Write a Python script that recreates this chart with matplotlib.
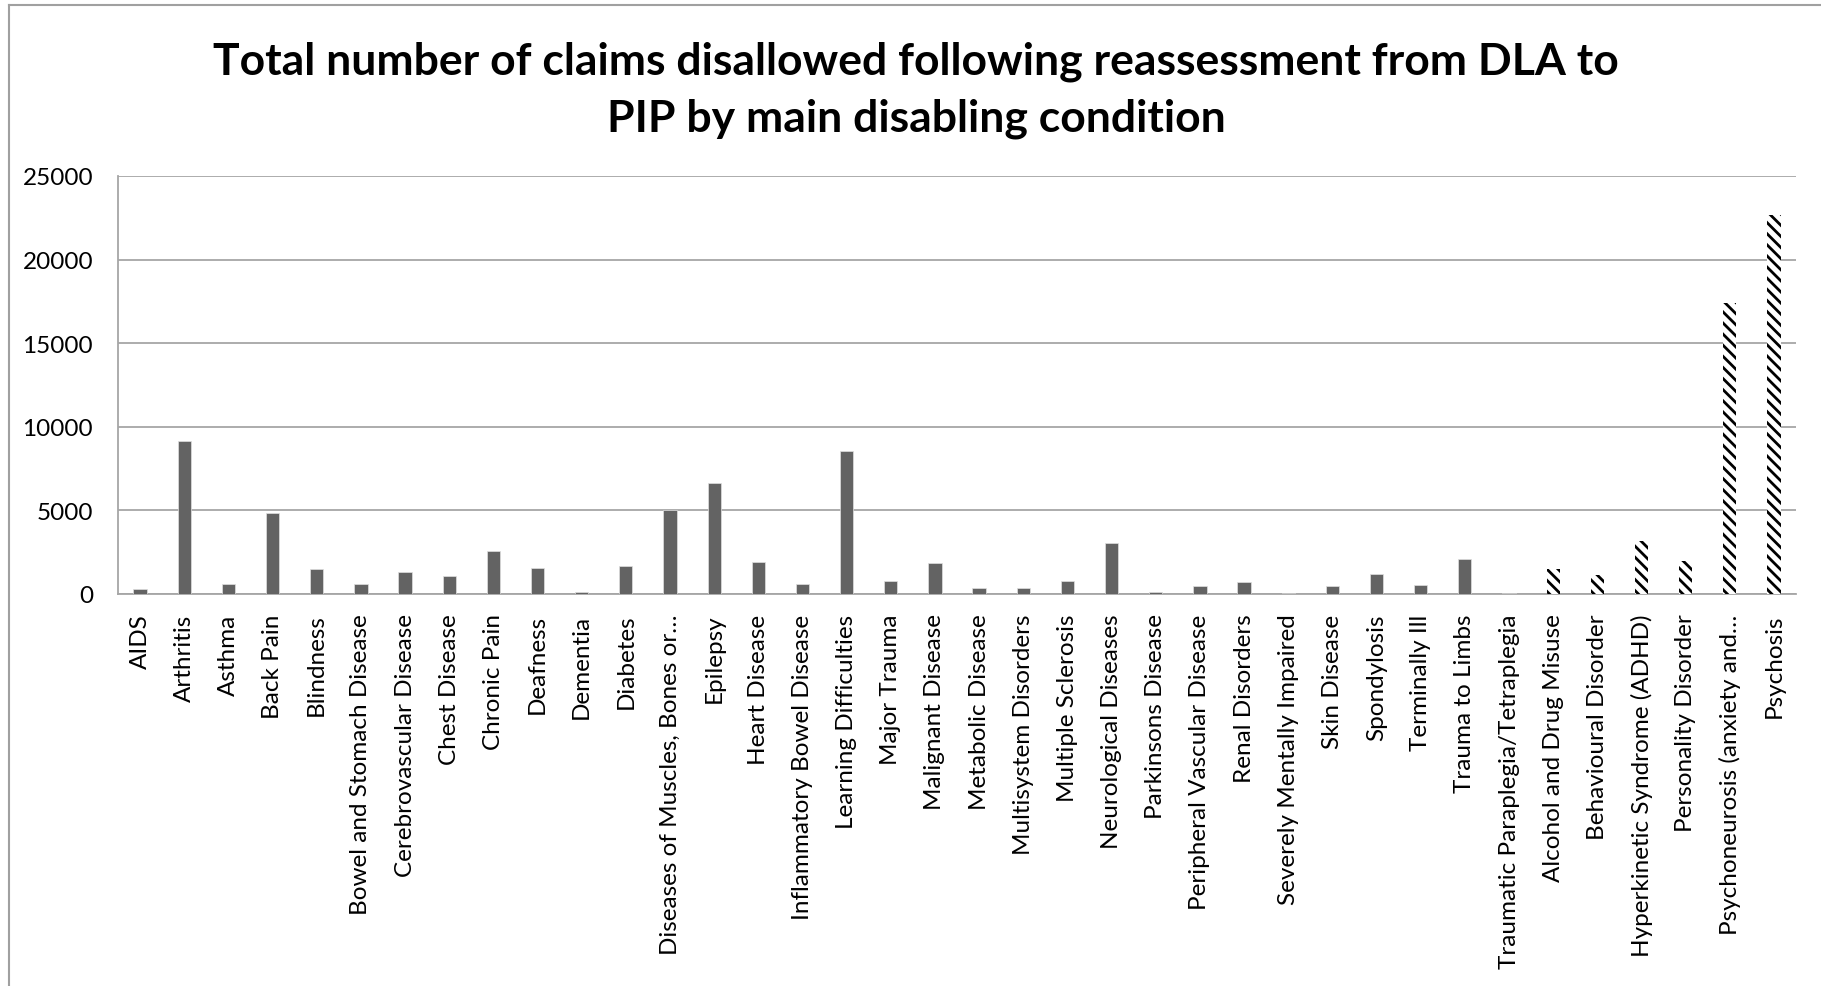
import numpy as np
import matplotlib.pyplot as plt
from matplotlib.lines import Line2D

plt.rcParams['font.family'] = ['Lato', 'DejaVu Sans']
plt.rcParams['hatch.linewidth'] = 2.0

# physical / other conditions (solid bars)
conditions = ['AIDS', 'Arthritis', 'Asthma', 'Back Pain', 'Blindness',
              'Bowel and Stomach Disease', 'Cerebrovascular Disease', 'Chest Disease',
              'Chronic Pain', 'Deafness', 'Dementia', 'Diabetes',
              'Diseases of Muscles, Bones or…', 'Epilepsy', 'Heart Disease',
              'Inflammatory Bowel Disease', 'Learning Difficulties', 'Major Trauma',
              'Malignant Disease', 'Metabolic Disease', 'Multisystem Disorders',
              'Multiple Sclerosis', 'Neurological Diseases', 'Parkinsons Disease',
              'Peripheral Vascular Disease', 'Renal Disorders', 'Severely Mentally Impaired',
              'Skin Disease', 'Spondylosis', 'Terminally Ill', 'Trauma to Limbs',
              'Traumatic Paraplegia/Tetraplegia']
condition_values = [300, 9170, 620, 4850, 1515, 580, 1315, 1075, 2590, 1575, 120, 1695,
                    5025, 6620, 1895, 580, 8570, 800, 1875, 360, 380, 800, 3030, 120,
                    460, 720, 40, 480, 1200, 540, 2095, 40]

# mental health conditions (hatched bars)
mental = ['Alcohol and Drug Misuse', 'Behavioural Disorder', 'Hyperkinetic Syndrome (ADHD)',
          'Personality Disorder', 'Psychoneurosis (anxiety and…', 'Psychosis']
mental_values = [1495, 1135, 3170, 1975, 17405, 22670]

title = 'Total number of claims disallowed following reassessment from DLA to\nPIP by main disabling condition'

fig = plt.figure(figsize=(18.21, 9.87), dpi=100)
ax = fig.add_axes([0.0648, 0.3972, 0.9215, 0.4235])

x1 = np.arange(len(conditions))
x2 = np.arange(len(conditions), len(conditions) + len(mental))
ax.bar(x1, condition_values, width=0.3, color='#636363', edgecolor='#e0e0e0', linewidth=0.5, zorder=3)
# stripes run from upper left to lower right, like the reference
ax.bar(x2, mental_values, width=0.3, color='white', edgecolor='black', linewidth=0,
       hatch='\\\\\\', zorder=3)

ax.set_xlim(-0.5, len(conditions) + len(mental) - 0.5)
ax.set_ylim(0, 25000)
ax.set_yticks(range(0, 25001, 5000))
ax.set_xticks(np.arange(len(conditions) + len(mental)))
ax.set_xticklabels(conditions + mental, rotation=90, fontsize=17.5)
ax.tick_params(axis='y', labelsize=17.5, length=0, pad=18)
ax.tick_params(axis='x', length=0, pad=14)
ax.yaxis.grid(True, color='#a6a6a6', linewidth=1.3, zorder=0)
ax.set_axisbelow(True)
for s in ['top', 'right']:
    ax.spines[s].set_visible(False)
for s in ['left', 'bottom']:
    ax.spines[s].set_color('#a6a6a6')
    ax.spines[s].set_linewidth(1.3)

fig.text(0.503, 0.909, title, ha='center', va='center', fontsize=32, fontweight='bold',
         linespacing=1.5)

# outer chart border (only left and top edges are visible)
fig.add_artist(Line2D([9 / 1821, 9 / 1821], [0, 1 - 6 / 987], color='#a0a0a0', linewidth=1.5))
fig.add_artist(Line2D([9 / 1821, 1], [1 - 6 / 987, 1 - 6 / 987], color='#a0a0a0', linewidth=1.5))

fig.savefig('out.png', dpi=100)
